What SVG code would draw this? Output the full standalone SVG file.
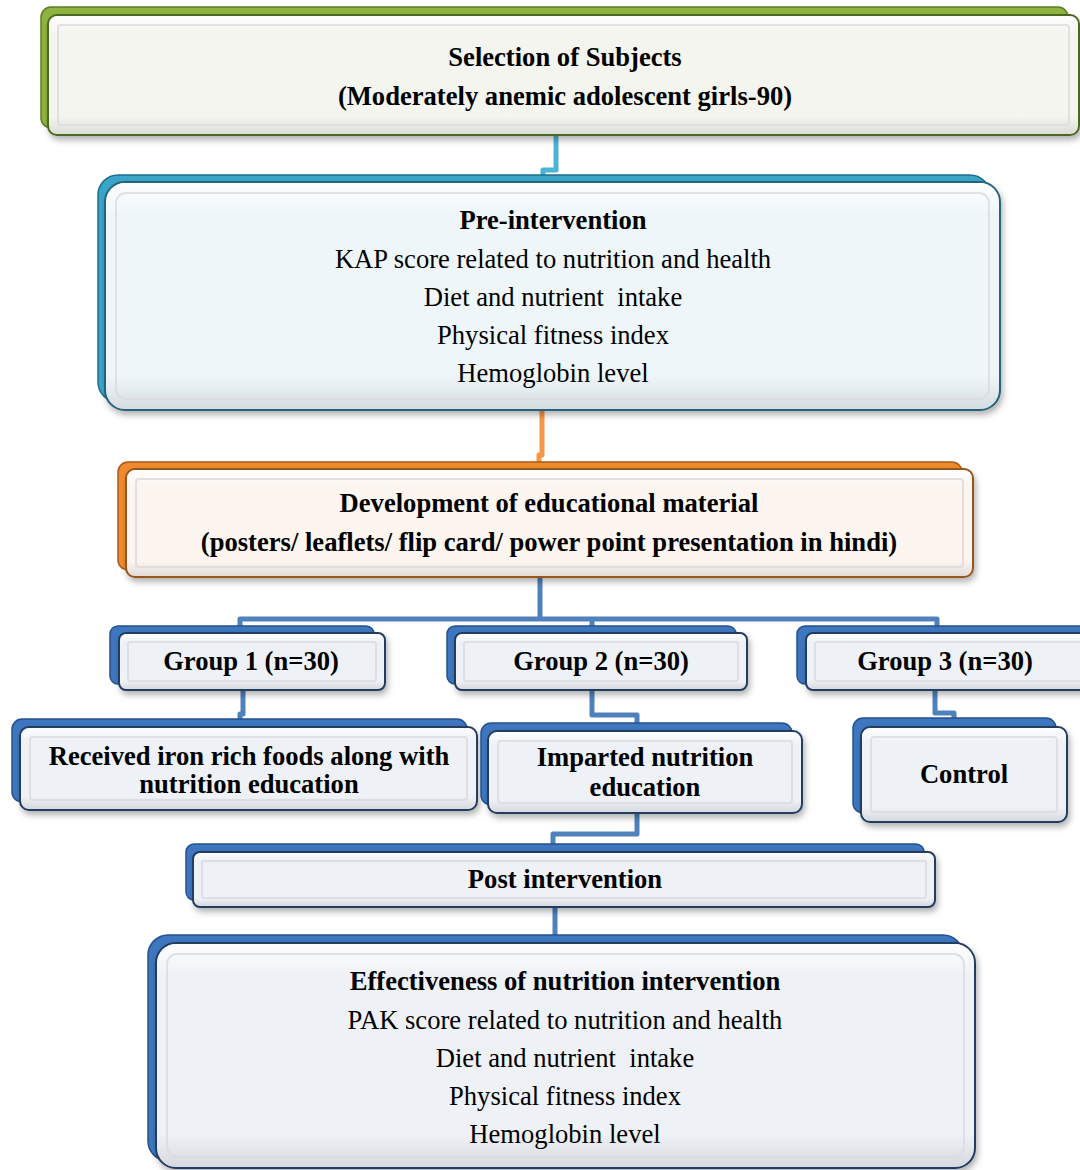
<svg xmlns="http://www.w3.org/2000/svg" width="1080" height="1170" viewBox="0 0 1080 1170">
<defs>
<filter id="sh" x="-5%" y="-10%" width="110%" height="130%">
<feDropShadow dx="2" dy="4" stdDeviation="3" flood-color="#000" flood-opacity="0.3"/>
</filter>
<linearGradient id="gl" x1="0" y1="0" x2="0" y2="1">
<stop offset="0" stop-color="#ffffff" stop-opacity="0.9"/>
<stop offset="0.15" stop-color="#ffffff" stop-opacity="0"/>
<stop offset="0.85" stop-color="#000000" stop-opacity="0"/>
<stop offset="1" stop-color="#000000" stop-opacity="0.1"/>
</linearGradient>
</defs>
<style>
text{font-family:"Liberation Serif","Times New Roman",serif;font-size:26.6px;fill:#000;text-anchor:middle;white-space:pre}
.b{font-weight:bold}
.gB{fill:#8fb33e;stroke:#5d7d24;stroke-width:1.5}
.gF{fill:#f4f5ef;stroke:#4c6820;stroke-width:2}
.tB{fill:#3aa5c8;stroke:#1e6f8c;stroke-width:1.5}
.tF{fill:#eef6fa;stroke:#25637a;stroke-width:2}
.oB{fill:#ef8a2e;stroke:#a85a18;stroke-width:1.5}
.oF{fill:#fcf5f0;stroke:#98541c;stroke-width:2}
.bB{fill:#3e76bf;stroke:#24518c;stroke-width:1.5}
.bF{fill:#eef1f6;stroke:#213c60;stroke-width:2}
.gls{fill:url(#gl);stroke:none}
.inner{fill:none;stroke:#d9dbdd;stroke-opacity:0.8;stroke-width:2}
.c{fill:none;stroke-width:5;stroke-linejoin:round}
</style>

<g id="connectors">
<polyline class="c" stroke="#4bb3d6" points="556,135 556,170 543,170 543,178"/>
<polyline class="c" stroke="#f79646" points="542,410 542,455 539,455 539,463"/>
<polyline class="c" stroke="#4f81bd" points="540,577 540,619"/>
<polyline class="c" stroke="#4f81bd" points="240,626 240,619 937,619 937,626"/>
<polyline class="c" stroke="#4f81bd" points="592,619 592,626"/>
<polyline class="c" stroke="#4f81bd" points="243,690 243,714 240,714 240,720"/>
<polyline class="c" stroke="#4f81bd" points="592,690 592,715 637,715 637,724"/>
<polyline class="c" stroke="#4f81bd" points="935,690 935,713 954,713 954,719"/>
<polyline class="c" stroke="#4f81bd" points="637,813 637,834 553,834 553,845"/>
<polyline class="c" stroke="#4f81bd" points="555,907 555,936"/>
</g>

<g id="selection">
<rect class="gB" x="41" y="7" width="1027" height="121" rx="10"/>
<rect class="gF" x="48" y="15" width="1031" height="120" rx="9" filter="url(#sh)"/>
<rect class="gls" x="49" y="16" width="1029" height="118" rx="9"/>
<rect class="inner" x="58" y="25" width="1011" height="100" rx="3"/>
<text class="b" x="565" y="66">Selection of Subjects</text>
<text class="b" x="565" y="105">(Moderately anemic adolescent girls-90)</text>
</g>

<g id="pre">
<rect class="tB" x="98" y="175" width="892" height="227" rx="20"/>
<rect class="tF" x="105" y="182" width="895" height="228" rx="20" filter="url(#sh)"/>
<rect class="gls" x="106" y="183" width="893" height="226" rx="19"/>
<rect class="inner" x="116" y="193" width="873" height="206" rx="10"/>
<text class="b" x="553" y="229">Pre-intervention</text>
<text x="553" y="268">KAP score related to nutrition and health</text>
<text x="553" y="306">Diet and nutrient  intake</text>
<text x="553" y="344">Physical fitness index</text>
<text x="553" y="382">Hemoglobin level</text>
</g>

<g id="development">
<rect class="oB" x="118" y="462" width="844" height="108" rx="10"/>
<rect class="oF" x="126" y="469" width="847" height="108" rx="9" filter="url(#sh)"/>
<rect class="gls" x="127" y="470" width="845" height="106" rx="9"/>
<rect class="inner" x="136" y="479" width="827" height="88" rx="3"/>
<text class="b" x="549" y="512">Development of educational material</text>
<text class="b" x="549" y="551">(posters/ leaflets/ flip card/ power point presentation in hindi)</text>
</g>

<g id="group1">
<rect class="bB" x="110" y="626" width="264" height="58" rx="8"/>
<rect class="bF" x="119" y="633" width="266" height="57" rx="7" filter="url(#sh)"/>
<rect class="gls" x="120" y="634" width="264" height="55" rx="7"/>
<rect class="inner" x="128" y="642" width="248" height="39" rx="2"/>
<text class="b" x="251" y="670">Group 1 (n=30)</text>
</g>

<g id="group2">
<rect class="bB" x="447" y="626" width="289" height="58" rx="8"/>
<rect class="bF" x="455" y="633" width="292" height="57" rx="7" filter="url(#sh)"/>
<rect class="gls" x="456" y="634" width="290" height="55" rx="7"/>
<rect class="inner" x="464" y="642" width="274" height="39" rx="2"/>
<text class="b" x="601" y="670">Group 2 (n=30)</text>
</g>

<g id="group3">
<rect class="bB" x="797" y="626" width="290" height="58" rx="8"/>
<rect class="bF" x="806" y="633" width="290" height="57" rx="7" filter="url(#sh)"/>
<rect class="gls" x="807" y="634" width="288" height="55" rx="7"/>
<rect class="inner" x="815" y="642" width="290" height="39" rx="2"/>
<text class="b" x="945" y="670">Group 3 (n=30)</text>
</g>

<g id="received">
<rect class="bB" x="12" y="719" width="455" height="83" rx="10"/>
<rect class="bF" x="20" y="727" width="457" height="83" rx="9" filter="url(#sh)"/>
<rect class="gls" x="21" y="728" width="455" height="81" rx="9"/>
<rect class="inner" x="30" y="737" width="437" height="63" rx="3"/>
<text class="b" x="249" y="765">Received iron rich foods along with</text>
<text class="b" x="249" y="793">nutrition education</text>
</g>

<g id="imparted">
<rect class="bB" x="481" y="723" width="311" height="82" rx="10"/>
<rect class="bF" x="488" y="731" width="314" height="82" rx="9" filter="url(#sh)"/>
<rect class="gls" x="489" y="732" width="312" height="80" rx="9"/>
<rect class="inner" x="498" y="741" width="294" height="62" rx="3"/>
<text class="b" x="645" y="766">Imparted nutrition</text>
<text class="b" x="645" y="796">education</text>
</g>

<g id="control">
<rect class="bB" x="853" y="718" width="203" height="95" rx="10"/>
<rect class="bF" x="861" y="727" width="206" height="95" rx="9" filter="url(#sh)"/>
<rect class="gls" x="862" y="728" width="204" height="93" rx="9"/>
<rect class="inner" x="871" y="737" width="186" height="75" rx="3"/>
<text class="b" x="964" y="783">Control</text>
</g>

<g id="post">
<rect class="bB" x="186" y="844" width="738" height="56" rx="8"/>
<rect class="bF" x="193" y="852" width="742" height="55" rx="7" filter="url(#sh)"/>
<rect class="gls" x="194" y="853" width="740" height="53" rx="7"/>
<rect class="inner" x="202" y="861" width="724" height="37" rx="2"/>
<text class="b" x="565" y="888">Post intervention</text>
</g>

<g id="effectiveness">
<rect class="bB" x="148" y="935" width="815" height="226" rx="20"/>
<rect class="bF" x="156" y="943" width="819" height="225" rx="20" filter="url(#sh)"/>
<rect class="gls" x="157" y="944" width="817" height="223" rx="19"/>
<rect class="inner" x="167" y="954" width="797" height="203" rx="10"/>
<text class="b" x="565" y="990">Effectiveness of nutrition intervention</text>
<text x="565" y="1029">PAK score related to nutrition and health</text>
<text x="565" y="1067">Diet and nutrient  intake</text>
<text x="565" y="1105">Physical fitness index</text>
<text x="565" y="1143">Hemoglobin level</text>
</g>
</svg>
